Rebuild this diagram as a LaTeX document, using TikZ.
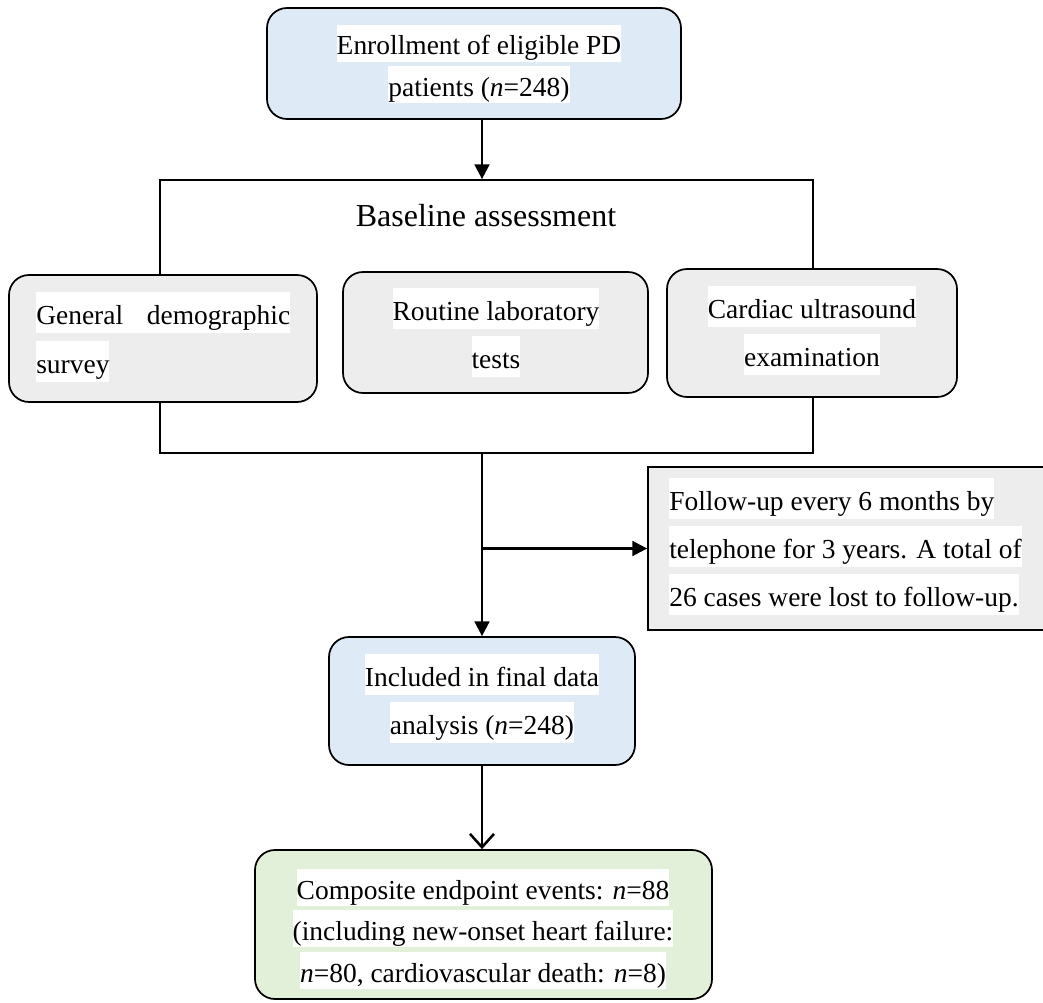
\documentclass[tikz,border=0pt]{standalone}
\usepackage{fontspec}
\setmainfont{Liberation Serif}
\usetikzlibrary{fit,arrows.meta}
\definecolor{boxblue}{HTML}{DEEBF7}
\definecolor{boxgrey}{HTML}{EDEDED}
\definecolor{boxgreen}{HTML}{E2F0D9}
\newcommand\strutA{\rule[-6.75pt]{0pt}{30.75pt}}
\newcommand\strutB{\rule[-5.25pt]{0pt}{27.75pt}}
\tikzset{
  box/.style={draw, line width=1.3pt, inner sep=0pt, rounded corners=15pt},
  sqbox/.style={draw, line width=1.3pt, inner sep=0pt},
  hl/.style={fill=white, inner sep=0pt, font=\fontsize{20.6}{24}\selectfont},
  hlc/.style={hl, anchor=base},
  hll/.style={hl, anchor=base west},
  arr/.style={line width=1.9pt, -{Triangle[length=11pt,width=11pt]}},
  oarr/.style={line width=1.9pt, -{Straight Barb[length=10pt,width=18pt,line width=1.9pt]}},
}
\begin{document}
\begin{tikzpicture}[x=0.75pt,y=-0.75pt]
\useasboundingbox[fill=white] (0,0) rectangle (1043,1003);

% bracket frame
\node[sqbox, fit={(160,180) (813,453)}] (bracket) {};

% boxes
\node[box, fill=boxblue, fit={(267,8) (681,119)}] (top) {};
\node[box, fill=boxgrey, fit={(9,275) (317,402)}] (gen) {};
\node[box, fill=boxgrey, fit={(343,272) (648,393)}] (rout) {};
\node[box, fill=boxgrey, fit={(667,269) (957,397)}] (card) {};
\node[sqbox, fill=boxgrey, fit={(648,467) (1070,630)}] (fu) {};
\node[box, fill=boxblue, fit={(329,637) (635,765)}] (inc) {};
\node[box, fill=boxgreen, fit={(255,850) (712,999)}] (comp) {};

% texts
\node[hlc] (top1) at (479,55) {\strutB Enrollment of eligible PD};
\node[hlc] (top2) at (479,96) {\strutB patients (\textit{n}=248)};

\node[anchor=base, font=\fontsize{24}{28}\selectfont] (base) at (486,226) {Baseline assessment};

\node[hll] (gen1) at (36,324) {\strutA\makebox[190.5pt][s]{General\hfill demographic}};
\node[hll] (gen2) at (36,373) {\strutA survey};

\node[hlc] (rout1) at (496,320) {\strutA Routine laboratory};
\node[hlc] (rout2) at (496,368) {\strutA tests};

\node[hlc] (card1) at (812,318) {\strutA Cardiac ultrasound};
\node[hlc] (card2) at (812,366) {\strutA examination};

\node[hll] (fu1) at (669,510) {\strutA Follow-up every 6 months by};
\node[hll] (fu2) at (669,558) {\strutA telephone for 3 years. A total of};
\node[hll] (fu3) at (669,606) {\strutA 26 cases were lost to follow-up.};

\node[hlc] (inc1) at (482,686) {\strutA Included in final data};
\node[hlc] (inc2) at (482,734) {\strutA analysis (\textit{n}=248)};

\node[hlc] (comp1) at (483,899) {\strutB Composite endpoint events: \textit{n}=88};
\node[hlc] (comp2) at (483,940) {\strutB (including new-onset heart failure:};
\node[hlc] (comp3) at (483,982) {\strutB \textit{n}=80, cardiovascular death: \textit{n}=8)};

% connectors
\draw[arr] (top.south -| inc.north) -- (inc.north |- bracket.north);
\draw[arr] (inc.north |- bracket.south) -- (inc.north);
\coordinate (br) at (inc.north |- fu.west);
\draw[arr] (br) -- (fu.west);
\draw[oarr] (inc.south) -- (inc.south |- comp.north);
\end{tikzpicture}
\end{document}
